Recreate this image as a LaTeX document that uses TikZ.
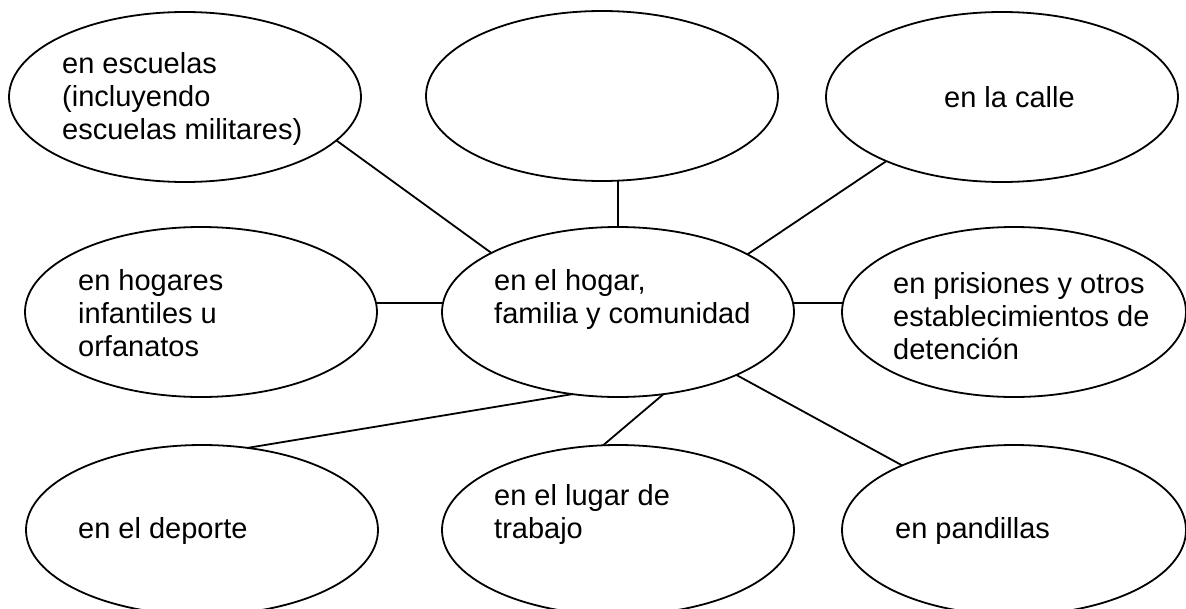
\documentclass[tikz,border=0pt]{standalone}
\usepackage{fontspec}
\setmainfont{Liberation Sans}
\usetikzlibrary{shapes.geometric}
\begin{document}
\begin{tikzpicture}[x=1pt,y=-1pt,
  bub/.style={ellipse, draw, line width=1.8pt, minimum width=352pt, minimum height=170pt, inner sep=0pt, outer sep=0pt},
  narrow/.style={minimum width=344pt},
  txt/.style={anchor=base west, inner sep=0pt, font=\fontsize{29}{33}\selectfont},
  link/.style={line width=1.8pt}]
\useasboundingbox (0,0) rectangle (1186,608);
\clip (0,0) rectangle (1186,608);
% ellipses
\node[bub] (tl) at (185,97) {};
\node[bub] (tm) at (602,96) {};
\node[bub] (tr) at (1002,97) {};
\node[bub] (ml) at (201,312) {};
\node[bub] (c)  at (618,312) {};
\node[bub,narrow] (mr) at (1014,312) {};
\node[bub] (bl) at (202,530) {};
\node[bub] (bm) at (618,530) {};
\node[bub,narrow] (br) at (1014,530) {};
% texts
\node[txt] (ttl) at (62,73) {\vtop{\hbox{en escuelas}\hbox{(incluyendo}\hbox{escuelas militares)}}};
\node[txt] (ttr) at (944,107) {en la calle};
\node[txt] (tml) at (78,290) {\vtop{\hbox{en hogares}\hbox{infantiles u}\hbox{orfanatos}}};
\node[txt] (tc)  at (494,290) {\vtop{\hbox{en el hogar,}\hbox{familia y comunidad}}};
\node[txt] (tmr) at (893,293) {\vtop{\hbox{en prisiones y otros}\hbox{establecimientos de}\hbox{detención}}};
\node[txt] (tbl) at (78,538) {en el deporte};
\node[txt] (tbm) at (494,505) {\vtop{\hbox{en el lugar de}\hbox{trabajo}}};
\node[txt] (tbr) at (895,538) {en pandillas};
% connectors
\draw[link] (tl.-16) -- (c.155);
\draw[link] (c.north) -- (c.north |- tm.south);
\draw[link] (tr.209) -- (c.24);
\draw[link] (ml.3) -- (ml.3 -| c.west);
\draw[link] (c.3.5) -- (c.3.5 -| mr.west);
\draw[link] (c.-119.5) -- (bl.61);
\draw[link] (c.-61) -- (bm.100);
\draw[link] (c.-28) -- (br.150);
\end{tikzpicture}
\end{document}
